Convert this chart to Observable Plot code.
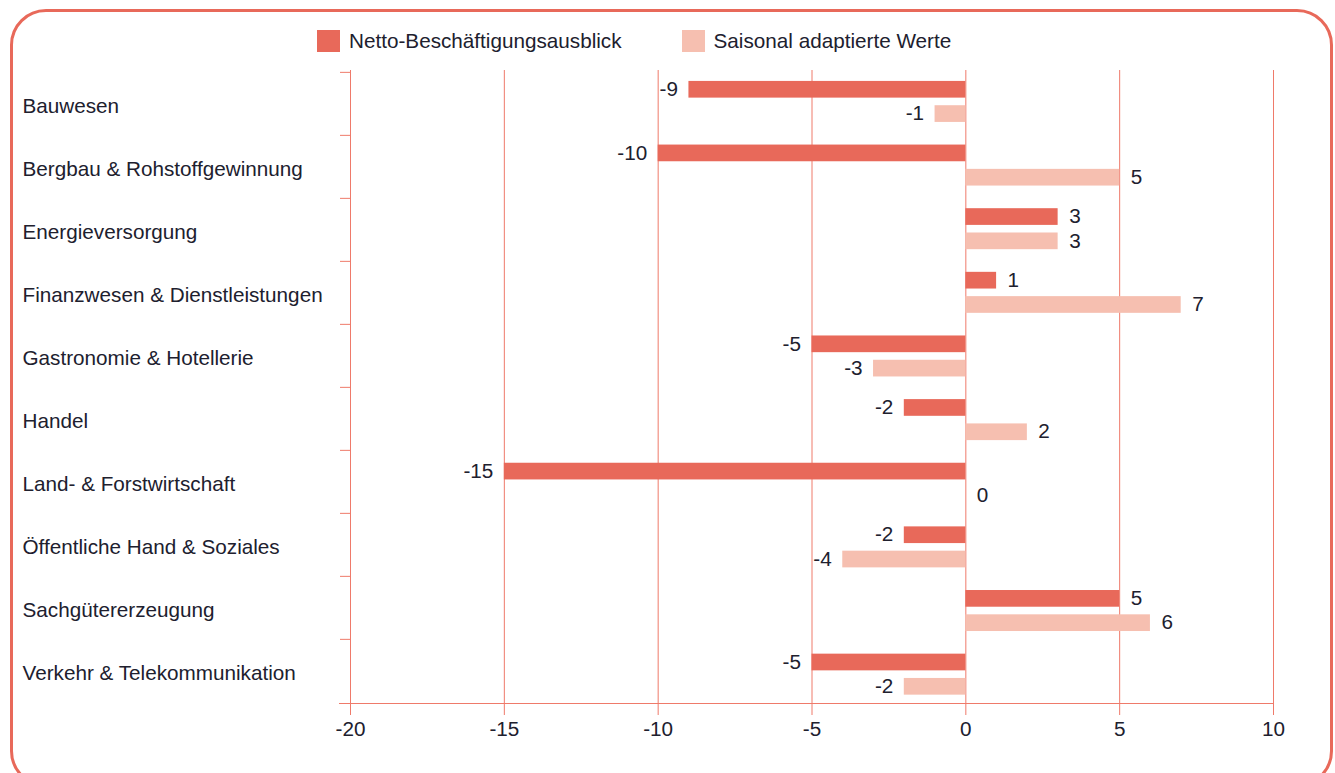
<!DOCTYPE html>
<html><head><meta charset="utf-8">
<script src="https://cdn.jsdelivr.net/npm/d3@7"></script>
<script src="https://cdn.jsdelivr.net/npm/@observablehq/plot@0.6"></script>
<style>
body{margin:0;background:#fff;font-family:"Liberation Sans",Arial,sans-serif;color:#20202e;}
#wrap{position:relative;width:1335px;height:773px;overflow:hidden;}
#frame{position:absolute;left:10px;top:9px;width:1323px;height:778px;border:3px solid #e8695a;border-radius:36px;box-sizing:border-box;}
#legend{position:absolute;top:29px;left:317px;display:flex;align-items:center;font-size:20.7px;white-space:nowrap;}
#legend .item{display:flex;align-items:center;}
#legend .sw{width:23px;height:22px;margin-right:9px;}
#chart{position:absolute;left:0;top:60px;}
</style></head>
<body>
<div id="wrap">
<div id="frame"></div>
<div id="legend"></div>
<div id="chart"></div>
</div>
<script>
const categories = ["Bauwesen","Bergbau & Rohstoffgewinnung","Energieversorgung","Finanzwesen & Dienstleistungen","Gastronomie & Hotellerie","Handel","Land- & Forstwirtschaft","Öffentliche Hand & Soziales","Sachgütererzeugung","Verkehr & Telekommunikation"];
const netto = [-9,-10,3,1,-5,-2,-15,-2,5,-5];
const saisonal = [-1,5,3,7,-3,2,0,-4,6,-2];
const xTicks = [-20,-15,-10,-5,0,5,10];
const seriesNames = ["Netto-Beschäftigungsausblick","Saisonal adaptierte Werte"];
const seriesColors = ["#e8695a","#f6bfb0"];

const gridColor = "#ef7a6a";
const textColor = "#20202e";
const FS = 20.7;

const legend = document.getElementById("legend");
seriesNames.forEach((n,i)=>{
  const it = document.createElement("div");
  it.className="item";
  if(i>0) it.style.marginLeft="60px";
  it.innerHTML = `<span class="sw" style="background:${seriesColors[i]}"></span><span>${n}</span>`;
  legend.appendChild(it);
});

const data = categories.map((c,i)=>({category:c, netto:netto[i], saisonal:saisonal[i]}));

const W = 1335, H = 713, mT = 10, mB = 70, mL = 350, mR = 62;
const bw = (H - mT - mB) / categories.length;
const half = bw/2;
// the bar groups in the original are spaced slightly wider than the category bands
const stretch = 1 + 0.64 / bw;
function spread(index, scales, values, dims, ctx, next) {
  const y = Float64Array.from(values.y, v => mT + (v - mT) * stretch);
  return next(index, scales, {...values, y}, dims, ctx);
}

const labelMarks = (key, dy) => [
  Plot.text(data.filter(d=>d[key]<0), {x:key, y:"category", text:d=>String(d[key]), dy, dx:-11, textAnchor:"end", fill:textColor, fontSize:FS, render: spread}),
  Plot.text(data.filter(d=>d[key]>=0), {x:key, y:"category", text:d=>String(d[key]), dy, dx:11, textAnchor:"start", fill:textColor, fontSize:FS, render: spread})
];

const chart = Plot.plot({
  width: W, height: H,
  marginTop: mT, marginBottom: mB, marginLeft: mL, marginRight: mR,
  style: {fontFamily: '"Liberation Sans", Arial, sans-serif', fontSize: FS + "px", color: textColor, background: "transparent"},
  x: {domain: [-20, 10], label: null},
  y: {domain: categories, padding: 0, label: null},
  marks: [
    Plot.ruleX(xTicks, {stroke: gridColor, strokeWidth: 1}),
    Plot.barX(data, {x: "netto", y: "category", fill: seriesColors[0], insetTop: 8.9, insetBottom: bw - 8.9 - 17, render: spread}),
    Plot.barX(data, {x: "saisonal", y: "category", fill: seriesColors[1], insetTop: 33.2, insetBottom: bw - 33.2 - 17, render: spread}),
    ...labelMarks("netto", 17 - half),
    ...labelMarks("saisonal", 41.3 - half),
    Plot.frame({anchor: "bottom", stroke: gridColor, insetLeft: -11}),
    Plot.axisX({ticks: xTicks, tickSize: 12, tickPadding: 6, tickFormat: d=>String(d), stroke: gridColor, fill: textColor, fontSize: FS, label: null}),
    Plot.axisY({tickSize: 10, tickFormat: () => "", dy: -half, stroke: gridColor, label: null}),
    Plot.axisY({tickSize: 0, tickPadding: 328, textAnchor: "start", fill: textColor, fontSize: FS, dy: 2, label: null})
  ]
});
document.getElementById("chart").appendChild(chart);
</script>
</body></html>
